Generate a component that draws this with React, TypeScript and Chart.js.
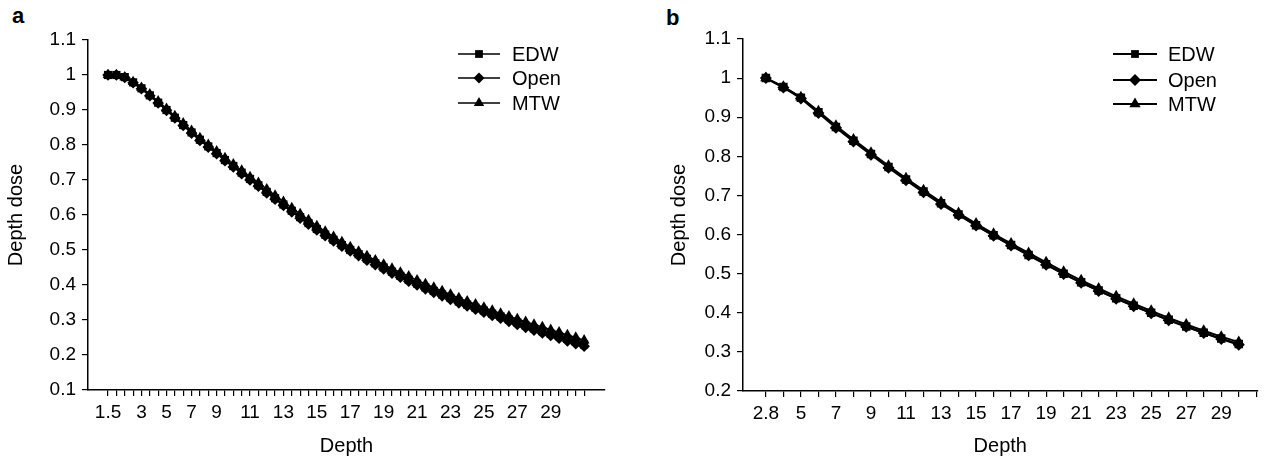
import React, { useEffect, useRef } from 'react';
import { Chart, registerables } from 'chart.js';

Chart.register(...registerables);

// ---------- Panel a data ----------
const depthsA = [
  1.5, 1.8, 2, 2.5, 3, 3.5, 4, 5, 5.5, 6,
  7, 7.5, 8, 9, 9.5, 10, 10.5, 11, 11.5, 12,
  12.5, 13, 13.5, 14, 14.5, 15, 15.5, 16, 16.5, 17,
  17.5, 18, 18.5, 19, 19.5, 20, 20.5, 21, 21.5, 22,
  22.5, 23, 23.5, 24, 24.5, 25, 25.5, 26, 26.5, 27,
  27.5, 28, 28.5, 29, 29.5, 30, 30.5, 31,
];
const tickLabelsA = ['1.5', '3', '5', '7', '9', '11', '13', '15', '17', '19', '21', '23', '25', '27', '29'];
const edwA = [
  1.000, 1.000, 0.994, 0.979, 0.962, 0.942, 0.921, 0.900, 0.878, 0.857,
  0.836, 0.815, 0.796, 0.777, 0.757, 0.740, 0.721, 0.703, 0.685, 0.666,
  0.648, 0.630, 0.612, 0.594, 0.577, 0.560, 0.544, 0.529, 0.514, 0.500,
  0.488, 0.475, 0.462, 0.450, 0.438, 0.426, 0.415, 0.404, 0.393, 0.383,
  0.373, 0.363, 0.353, 0.344, 0.335, 0.327, 0.318, 0.310, 0.301, 0.293,
  0.284, 0.276, 0.268, 0.261, 0.254, 0.246, 0.238, 0.230,
];
const openA = [
  1.000, 1.000, 0.993, 0.978, 0.961, 0.941, 0.920, 0.899, 0.877, 0.856,
  0.834, 0.813, 0.794, 0.775, 0.755, 0.737, 0.718, 0.700, 0.682, 0.663,
  0.645, 0.627, 0.609, 0.591, 0.574, 0.557, 0.541, 0.526, 0.511, 0.497,
  0.484, 0.471, 0.458, 0.446, 0.434, 0.422, 0.411, 0.400, 0.389, 0.379,
  0.369, 0.359, 0.349, 0.340, 0.331, 0.322, 0.313, 0.305, 0.296, 0.287,
  0.279, 0.271, 0.263, 0.256, 0.248, 0.240, 0.232, 0.225,
];
const mtwA = [
  1.000, 1.000, 0.994, 0.980, 0.964, 0.945, 0.925, 0.904, 0.883, 0.862,
  0.841, 0.820, 0.801, 0.782, 0.763, 0.745, 0.727, 0.709, 0.692, 0.674,
  0.656, 0.638, 0.620, 0.603, 0.586, 0.569, 0.553, 0.538, 0.523, 0.509,
  0.496, 0.483, 0.471, 0.459, 0.447, 0.436, 0.425, 0.414, 0.403, 0.393,
  0.383, 0.373, 0.363, 0.354, 0.345, 0.336, 0.327, 0.319, 0.311, 0.303,
  0.295, 0.287, 0.280, 0.272, 0.265, 0.257, 0.250, 0.242,
];

// ---------- Panel b data ----------
const depthsB = [
  2.8, 4, 5, 6, 7, 8, 9, 10, 11, 12,
  13, 14, 15, 16, 17, 18, 19, 20, 21, 22,
  23, 24, 25, 26, 27, 28, 29, 30,
];
const tickLabelsB = ['2.8', '5', '7', '9', '11', '13', '15', '17', '19', '21', '23', '25', '27', '29'];
const edwB = [
  1.000, 0.977, 0.950, 0.913, 0.875, 0.840, 0.806, 0.773, 0.741, 0.710,
  0.680, 0.651, 0.624, 0.598, 0.573, 0.548, 0.524, 0.500, 0.478, 0.457,
  0.437, 0.418, 0.400, 0.382, 0.365, 0.349, 0.334, 0.320,
];
const openB = [
  1.000, 0.976, 0.948, 0.911, 0.873, 0.838, 0.804, 0.771, 0.739, 0.708,
  0.678, 0.650, 0.623, 0.597, 0.572, 0.547, 0.523, 0.499, 0.477, 0.456,
  0.436, 0.417, 0.399, 0.381, 0.364, 0.348, 0.333, 0.318,
];
const mtwB = [
  1.000, 0.978, 0.951, 0.915, 0.878, 0.843, 0.809, 0.776, 0.744, 0.713,
  0.683, 0.655, 0.628, 0.602, 0.577, 0.553, 0.529, 0.505, 0.483, 0.462,
  0.442, 0.423, 0.405, 0.387, 0.370, 0.354, 0.339, 0.325,
];

const seriesNames = ['EDW', 'Open', 'MTW'];
const pointStyles = ['rect', 'rectRot', 'triangle'];
const yTitle = 'Depth dose';
const xTitle = 'Depth';

const FONT = '"Liberation Sans", Arial, Helvetica, sans-serif';

function drawMarker(ctx: CanvasRenderingContext2D, style: string, x: number, y: number, r: number) {
  ctx.beginPath();
  if (style === 'rect') {
    const s = Math.SQRT1_2 * r;
    ctx.rect(x - s, y - s, 2 * s, 2 * s);
  } else if (style === 'rectRot') {
    ctx.moveTo(x - r, y);
    ctx.lineTo(x, y - r);
    ctx.lineTo(x + r, y);
    ctx.lineTo(x, y + r);
    ctx.closePath();
  } else {
    for (let k = 0; k < 3; k++) {
      const a = (k * 2 * Math.PI) / 3;
      const px = x + Math.sin(a) * r;
      const py = y - Math.cos(a) * r;
      if (k === 0) ctx.moveTo(px, py);
      else ctx.lineTo(px, py);
    }
    ctx.closePath();
  }
  ctx.fill();
}

const lineLegend = {
  id: 'lineLegend',
  afterDraw(chart: any, _args: any, opts: any) {
    const ctx: CanvasRenderingContext2D = chart.ctx;
    chart.data.datasets.forEach((ds: any, i: number) => {
      const y = opts.ys[i];
      ctx.save();
      ctx.strokeStyle = '#000';
      ctx.fillStyle = '#000';
      ctx.lineWidth = ds.borderWidth;
      ctx.beginPath();
      ctx.moveTo(opts.x1, y);
      ctx.lineTo(opts.x2, y);
      ctx.stroke();
      drawMarker(ctx, ds.pointStyle, opts.xm, y, opts.r[i]);
      ctx.font = `${opts.fontSize}px ${FONT}`;
      ctx.textBaseline = 'middle';
      ctx.textAlign = 'left';
      ctx.fillText(ds.label, opts.xt, y + 1);
      ctx.restore();
    });
  },
};

function makeConfig(p: {
  depths: number[];
  tickLabels: string[];
  series: number[][];
  radii: number[];
  lineWidth: number;
  xMin: number;
  xMax: number;
  nTicks: number;
  yMin: number;
  yMax: number;
  yStep: number;
  yWidth: number;
  xHeight: number;
  padding: any;
  legend: any;
}) {
  const axisColor = '#000';
  const tickFont = { family: FONT, size: 19 };
  const titleFont = { family: FONT, size: 20 };
  return {
    type: 'line',
    data: {
      datasets: p.series.map((vals, si) => ({
        label: seriesNames[si],
        data: p.depths.map((_, i) => ({ x: i, y: vals[i] })),
        borderColor: '#000',
        backgroundColor: '#000',
        pointBackgroundColor: '#000',
        pointBorderColor: '#000',
        pointBorderWidth: 0,
        borderWidth: p.lineWidth,
        pointStyle: pointStyles[si],
        pointRadius: p.radii[si],
        tension: 0,
      })),
    },
    options: {
      animation: false,
      responsive: false,
      maintainAspectRatio: false,
      devicePixelRatio: 1,
      layout: { padding: p.padding },
      plugins: {
        legend: { display: false },
        tooltip: { enabled: false },
        title: { display: false },
        lineLegend: p.legend,
      },
      scales: {
        x: {
          type: 'linear',
          min: p.xMin,
          max: p.xMax,
          afterBuildTicks: (s: any) => {
            const t = [];
            for (let i = 0; i < p.nTicks; i++) t.push({ value: i });
            s.ticks = t;
          },
          ticks: {
            autoSkip: false,
            maxRotation: 0,
            minRotation: 0,
            padding: 5,
            color: '#000',
            font: tickFont,
            callback: (v: number) => {
              const d = p.depths[Math.round(v)];
              if (d === undefined) return '';
              const s = String(d);
              return p.tickLabels.includes(s) ? s : '';
            },
          },
          grid: { drawOnChartArea: false, drawTicks: true, tickLength: 6, color: axisColor, lineWidth: 1.2 },
          border: { display: true, color: axisColor, width: 1.5 },
          title: { display: true, text: xTitle, color: '#000', font: titleFont, padding: { top: 4, bottom: 4 } },
          afterFit: (s: any) => {
            s.height = p.xHeight;
          },
        },
        y: {
          type: 'linear',
          min: p.yMin,
          max: p.yMax,
          ticks: {
            stepSize: p.yStep,
            padding: 6,
            color: '#000',
            font: tickFont,
            callback: (v: number) => {
              if (Math.abs(Math.round(v * 10) - v * 10) > 1e-6) return '';
              return String(Math.round(v * 100) / 100);
            },
          },
          grid: { drawOnChartArea: false, drawTicks: true, tickLength: 6, color: axisColor, lineWidth: 1.2 },
          border: { display: true, color: axisColor, width: 1.5 },
          title: { display: true, text: yTitle, color: '#000', font: titleFont, padding: { top: 4, bottom: 4 } },
          afterFit: (s: any) => {
            s.width = p.yWidth;
          },
        },
      },
    },
    plugins: [lineLegend],
  };
}

function ChartPanel({ left, width, config }: { left: number; width: number; config: any }) {
  const ref = useRef<HTMLCanvasElement | null>(null);
  useEffect(() => {
    if (!ref.current) return;
    const chart = new Chart(ref.current, config);
    return () => chart.destroy();
  }, [config]);
  return (
    <canvas
      ref={ref}
      width={width}
      height={462}
      style={{ position: 'absolute', left, top: 0, width, height: 462, display: 'block' }}
    />
  );
}

const configA = makeConfig({
  depths: depthsA,
  tickLabels: tickLabelsA,
  series: [edwA, openA, mtwA],
  radii: [5.8, 5.8, 6.2],
  lineWidth: 1.5,
  xMin: -2.4,
  xMax: 59.5,
  nTicks: 58,
  yMin: 0.1,
  yMax: 1.1,
  yStep: 0.1,
  yWidth: 88,
  xHeight: 72,
  padding: { top: 40, left: 0, right: 15, bottom: 0 },
  legend: { x1: 458, x2: 500, xm: 479, xt: 512, ys: [54, 78, 103], fontSize: 20, r: [5.5, 5.5, 6] },
});

const configB = makeConfig({
  depths: depthsB,
  tickLabels: tickLabelsB,
  series: [edwB, openB, mtwB],
  radii: [6, 6, 6.5],
  lineWidth: 2,
  xMin: -1.307,
  xMax: 28.07,
  nTicks: 29,
  yMin: 0.2,
  yMax: 1.1,
  yStep: 0.05,
  yWidth: 80,
  xHeight: 71,
  padding: { top: 39, left: 31, right: 4, bottom: 0 },
  legend: { x1: 481, x2: 525, xm: 503, xt: 536, ys: [54, 80, 104], fontSize: 20, r: [5.5, 6, 6.5] },
});

export default function App() {
  return (
    <div
      style={{
        position: 'absolute',
        left: 0,
        top: 0,
        width: 1264,
        height: 462,
        background: '#fff',
        fontFamily: FONT,
        overflow: 'hidden',
      }}
    >
      <div style={{ position: 'absolute', left: 12, top: 3, fontSize: 22, fontWeight: 'bold', color: '#000' }}>a</div>
      <div style={{ position: 'absolute', left: 666, top: 5, fontSize: 22, fontWeight: 'bold', color: '#000' }}>b</div>
      <ChartPanel left={0} width={620} config={configA} />
      <ChartPanel left={632} width={632} config={configB} />
    </div>
  );
}
